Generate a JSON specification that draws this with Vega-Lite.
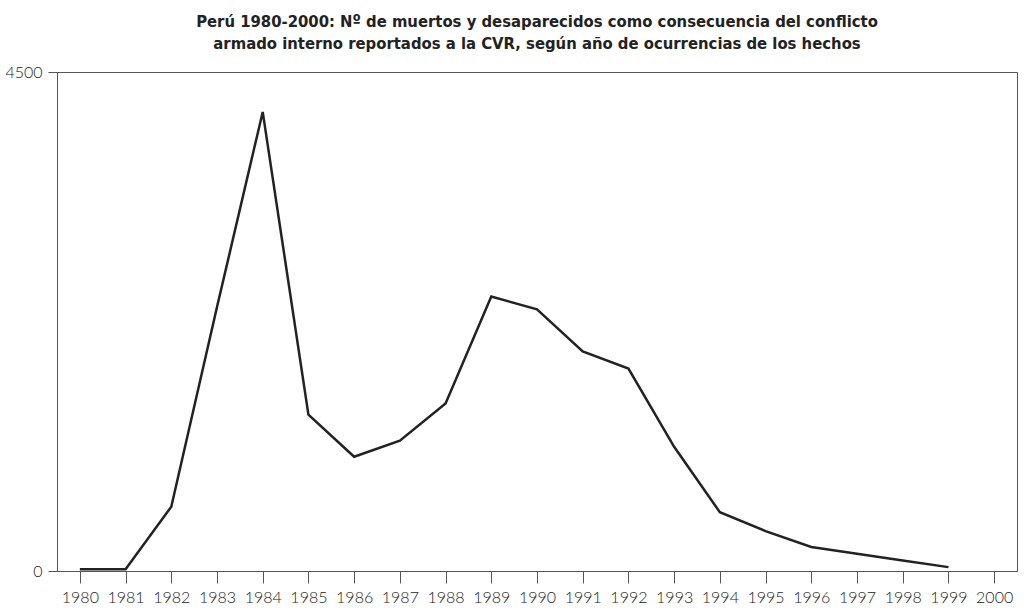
{
  "$schema": "https://vega.github.io/schema/vega-lite/v6.json",
  "width": 960,
  "height": 499,
  "autosize": {"type": "none"},
  "padding": {"left": 57, "top": 72, "right": 7, "bottom": 39},
  "background": "white",
  "title": {
    "text": ["Perú 1980-2000: Nº de muertos y desaparecidos como consecuencia del conflicto", "armado interno reportados a la CVR, según año de ocurrencias de los hechos"],
    "anchor": "middle",
    "font": "Liberation Sans Narrow, DejaVu Sans Condensed, Roboto",
    "fontSize": 16.5,
    "fontWeight": "bold",
    "color": "#222222",
    "lineHeight": 21.5,
    "offset": 12
  },
  "data": {
    "values": [
      {"year": "1980", "value": 15},
      {"year": "1981", "value": 15},
      {"year": "1982", "value": 580},
      {"year": "1983", "value": 2380},
      {"year": "1984", "value": 4140},
      {"year": "1985", "value": 1410},
      {"year": "1986", "value": 1030},
      {"year": "1987", "value": 1175},
      {"year": "1988", "value": 1510},
      {"year": "1989", "value": 2475},
      {"year": "1990", "value": 2360},
      {"year": "1991", "value": 1980},
      {"year": "1992", "value": 1825},
      {"year": "1993", "value": 1120},
      {"year": "1994", "value": 530},
      {"year": "1995", "value": 360},
      {"year": "1996", "value": 216},
      {"year": "1997", "value": 155},
      {"year": "1998", "value": 95},
      {"year": "1999", "value": 35}
    ]
  },
  "mark": {"type": "line", "color": "#222222", "strokeWidth": 2.5, "strokeJoin": "miter"},
  "encoding": {
    "x": {
      "field": "year",
      "type": "ordinal",
      "scale": {"domain": ["1980","1981","1982","1983","1984","1985","1986","1987","1988","1989","1990","1991","1992","1993","1994","1995","1996","1997","1998","1999","2000"], "paddingInner": 0, "paddingOuter": 0},
      "axis": {
        "title": null,
        "labelAngle": 0,
        "bandPosition": 0,
        "tickSize": 12,
        "tickColor": "#555555",
        "domainColor": "#555555",
        "labelFont": "Lato",
        "labelFontWeight": 300,
        "labelFontSize": 16,
        "labelColor": "#222222",
        "labelPadding": 6,
        "grid": false
      }
    },
    "y": {
      "field": "value",
      "type": "quantitative",
      "scale": {"domain": [0, 4500], "nice": false},
      "axis": {
        "title": null,
        "values": [0, 4500],
        "format": "d",
        "grid": false,
        "tickSize": 9,
        "tickColor": "#555555",
        "domainColor": "#555555",
        "labelFont": "Lato",
        "labelFontWeight": 300,
        "labelFontSize": 16,
        "labelColor": "#222222",
        "labelPadding": 6
      }
    }
  },
  "config": {
    "view": {"stroke": "#555555", "strokeWidth": 1}
  }
}
